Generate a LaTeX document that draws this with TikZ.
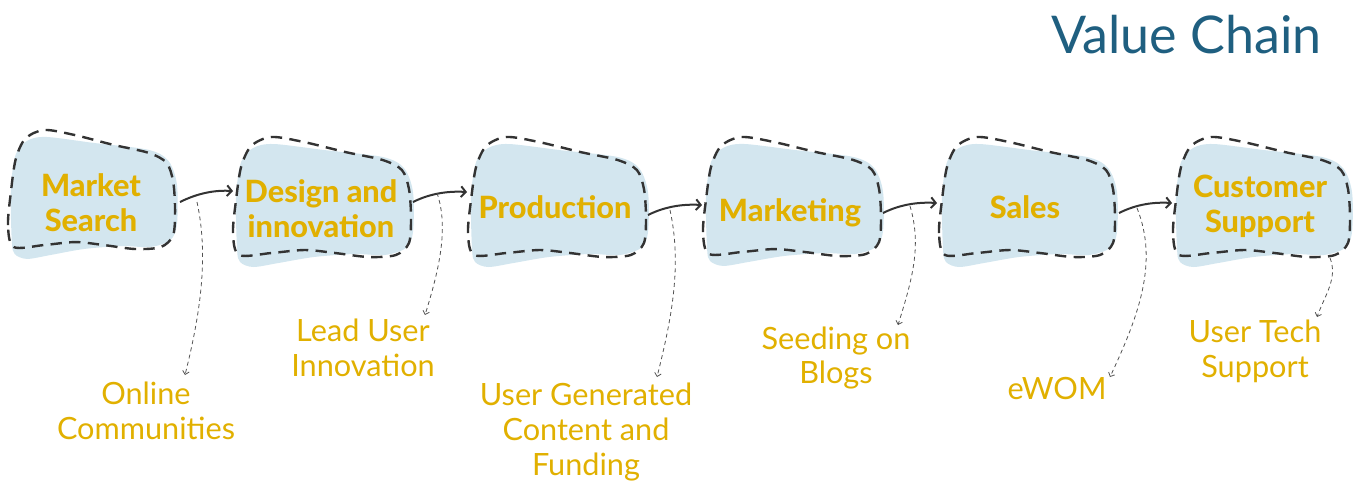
\documentclass[tikz,border=0pt]{standalone}
\usepackage{fontspec}
\setmainfont{Lato}[BoldFont={Lato Heavy}]
\usetikzlibrary{arrows.meta}
\definecolor{vcgold}{HTML}{E1B000}
\definecolor{vcblue}{HTML}{D3E6EF}
\definecolor{vcdark}{HTML}{333333}
\definecolor{vctitle}{HTML}{1F5F80}
\tikzset{
  blobfill/.style={fill=vcblue},
  blobline/.style={draw=vcdark, line width=1.8pt, dash pattern=on 8.5pt off 5.5pt, line cap=butt},
  boxtext/.style={text=vcgold, font=\fontsize{23}{26}\selectfont\bfseries, align=center, inner sep=0pt},
  labeltext/.style={text=vcgold, font=\fontsize{23}{26}\selectfont, align=center, inner sep=0pt},
  chainarrow/.style={draw=vcdark, line width=1.5pt, -{Straight Barb[length=3.5pt,width=8pt]}},
  feedarrow/.style={draw=vcdark!85, line width=0.6pt, dash pattern=on 3pt off 2.5pt, -{Straight Barb[length=2.5pt,width=5pt]}}
}
\newcommand\vcblob[4]{%
  \begin{scope}[shift={(#1,#2)},xscale=#3/177,yscale=#4/121]
    \fill[blobfill] plot[smooth cycle] coordinates {(4,112) (3,60) (8,25) (20,11) (40,7) (90,13) (148,20) (169,31) (178,55) (178,95) (171,111) (150,118) (120,117) (80,120) (45,126) (20,130) (7,125)};
    \draw[blobline] plot[smooth cycle] coordinates {(6,118) (0,96) (3,63) (8,30) (18,9) (38,0) (70,5) (111,15) (148,23) (167,33) (174,52) (176,80) (174,106) (161,118) (134,120) (101,116) (71,113) (38,116)};
  \end{scope}}
\begin{document}
\begin{tikzpicture}[x=0.75pt,y=-0.75pt]
\useasboundingbox (0,0) rectangle (1353,483);
% title
\node[text=vctitle, font=\fontsize{39}{42}\selectfont, anchor=base east, inner sep=0pt] (title) at (1322,53) {Value Chain};
% blobs
\vcblob{8}{130}{168}{120}
\vcblob{233}{137}{179}{121}
\vcblob{468}{137}{179}{121}
\vcblob{703}{137}{179}{120}
\vcblob{939}{137}{177}{121}
\vcblob{1173}{137}{178}{121}
% blob texts
\node[boxtext] (ms) at (91,203) {Market\\Search};
\node[boxtext] (di) at (321,209) {Design and\\innovation};
\node[boxtext] (pr) at (555,207) {Production};
\node[boxtext] (mk) at (790,213) {Marketing};
\node[boxtext] (sa) at (1025,207) {Sales};
\node[boxtext] (cs) at (1260,206) {Customer\\Support};
% labels
\node[labeltext] (oc) at (146,411) {Online\\Communities};
\node[labeltext] (lu) at (363,348) {Lead User\\Innovation};
\node[labeltext] (ug) at (586,432) {User Generated\\Content and\\Funding};
\node[labeltext] (sb) at (836,358) {Seeding on\\Blogs};
\node[labeltext] (ew) at (1057,388) {eWOM};
\node[labeltext] (ut) at (1255,351) {User Tech\\Support};
% arrow end points on blob edges
\coordinate (msR) at (180,202);
\coordinate (diL) at (233,191);
\coordinate (diR) at (413,202);
\coordinate (prL) at (467,192);
\coordinate (prR) at (648,215);
\coordinate (mkL) at (702,205);
\coordinate (mkR) at (883,213);
\coordinate (saL) at (937,203);
\coordinate (saR) at (1119,213);
\coordinate (csL) at (1172,203);
\coordinate (csB) at (1330,258);
% chain arrows
\draw[chainarrow] (msR) .. controls +(18,-9) and +(-18,-1) .. (diL);
\draw[chainarrow] (diR) .. controls +(18,-9) and +(-18,-1) .. (prL);
\draw[chainarrow] (prR) .. controls +(18,-9) and +(-18,-1) .. (mkL);
\draw[chainarrow] (mkR) .. controls +(18,-9) and +(-18,-1) .. (saL);
\draw[chainarrow] (saR) .. controls +(18,-9) and +(-18,-1) .. (csL);
% feed connectors
\coordinate (f1s) at (197,202); \coordinate (f1e) at (185,375);
\coordinate (f2s) at (437,193); \coordinate (f2e) at (425,315);
\coordinate (f3s) at (670,210); \coordinate (f3e) at (657,377);
\coordinate (f4s) at (910,206); \coordinate (f4e) at (898,325);
\coordinate (f5s) at (1137,208); \coordinate (f5e) at (1110,377);
\coordinate (f6e) at (1317,317);
\draw[feedarrow] (f1s) .. controls +(12,55) and +(15,-60) .. (f1e);
\draw[feedarrow] (f2s) .. controls +(12,35) and +(14,-45) .. (f2e);
\draw[feedarrow] (f3s) .. controls +(12,55) and +(15,-60) .. (f3e);
\draw[feedarrow] (f4s) .. controls +(12,40) and +(14,-45) .. (f4e);
\draw[feedarrow] (f5s) .. controls +(22,55) and +(28,-60) .. (f5e);
\draw[feedarrow] (csB) .. controls +(8,20) and +(8,-22) .. (f6e);
\end{tikzpicture}
\end{document}
